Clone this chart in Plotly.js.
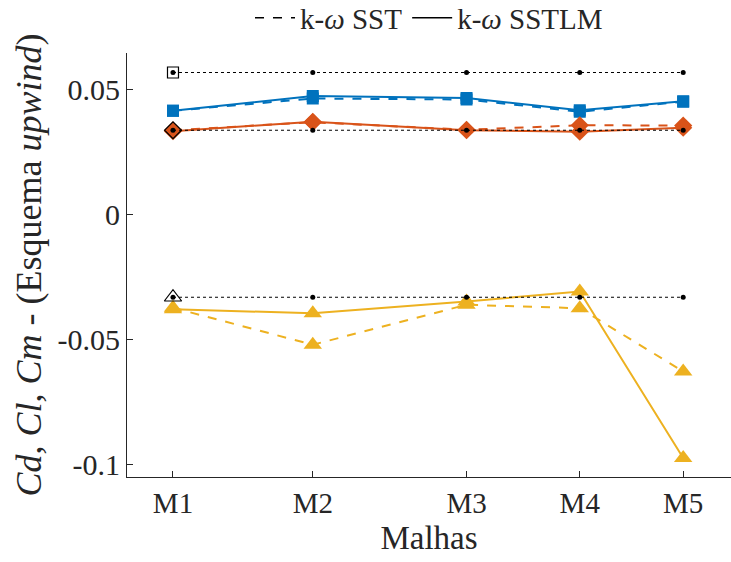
<!DOCTYPE html>
<html>
<head>
<meta charset="utf-8">
<script src="https://cdn.plot.ly/plotly-3.0.1.min.js"></script>
<style>html,body{margin:0;padding:0;background:#fff;}#chart{width:731px;height:562px;}</style>
</head>
<body>
<div id="chart"></div>
<script>
// Mesh labels and their positions along the x axis
const meshLabels = ['M1', 'M2', 'M3', 'M4', 'M5'];
const meshPos = [1.00, 2.00, 3.10, 3.91, 4.65];

// Blue (squares)
const blueSST   = [0.0415, 0.0464, 0.0460, 0.0411, 0.0451];
const blueSSTLM = [0.0415, 0.0474, 0.0466, 0.0417, 0.0453];
// Orange (diamonds)
const orangeSST   = [0.0337, 0.0369, 0.0339, 0.0357, 0.0356];
const orangeSSTLM = [0.0333, 0.0371, 0.0337, 0.0331, 0.0347];
// Yellow (triangles)
const yellowSST   = [-0.0373, -0.0521, -0.0361, -0.0375, -0.0628];
const yellowSSTLM = [-0.0379, -0.0395, -0.0348, -0.0308, -0.0974];

// Reference values (black dotted lines)
const refSquare = 0.0568;
const refDiamond = 0.0337;
const refTriangle = -0.0331;

const yTickVals = [0.05, 0, -0.05, -0.1];
const yTickText = ['0.05', '0', '-0.05', '-0.1'];

const legendNames = ['k-<i>ω</i> SST', 'k-<i>ω</i> SSTLM'];

const BLUE = '#0072BD', ORANGE = '#D95319', YELLOW = '#EDB120';
const FONT = '"Liberation Serif", "Times New Roman", Times, serif';

function series(y, color, symbol, size, dash) {
  return {
    x: meshPos, y: y, type: 'scatter', mode: 'lines+markers',
    line: {color: color, width: 2, dash: dash},
    marker: {color: color, symbol: symbol, size: size},
    showlegend: false, hoverinfo: 'skip'
  };
}
function refLine(val, symbol, size) {
  const ys = meshPos.map(() => val);
  return [
    {x: meshPos, y: ys, type: 'scatter', mode: 'lines+markers',
     line: {color: '#000', width: 1.2, dash: 'dot'},
     marker: {color: '#000', size: 5, symbol: 'circle'},
     showlegend: false, hoverinfo: 'skip'},
    {x: [meshPos[0]], y: [val], type: 'scatter', mode: 'markers',
     marker: {color: '#000', symbol: symbol, size: size, line: {color: '#000', width: 1.2}},
     showlegend: false, hoverinfo: 'skip'}
  ];
}

const data = [
  series(blueSST, BLUE, 'square', 12, 'dash'),
  series(blueSSTLM, BLUE, 'square', 12, 'solid'),
  series(orangeSST, ORANGE, 'diamond', 14, 'dash'),
  series(orangeSSTLM, ORANGE, 'diamond', 14, 'solid'),
  series(yellowSST, YELLOW, 'triangle-up', 16, 'dash'),
  series(yellowSSTLM, YELLOW, 'triangle-up', 16, 'solid'),
  ...refLine(refSquare, 'square-open-dot', 11),
  ...refLine(refDiamond, 'diamond-open-dot', 13),
  ...refLine(refTriangle, 'triangle-up-open-dot', 15),
  {x: [null], y: [null], type: 'scatter', mode: 'lines', name: legendNames[0],
   line: {color: '#000', width: 1.5, dash: 'dash'}, showlegend: true},
  {x: [null], y: [null], type: 'scatter', mode: 'lines', name: legendNames[1],
   line: {color: '#000', width: 1.5, dash: 'solid'}, showlegend: true}
];

const layout = {
  width: 731, height: 562,
  margin: {l: 127, r: 0, t: 53, b: 85},
  paper_bgcolor: '#fff', plot_bgcolor: '#fff',
  font: {family: FONT, color: '#262626'},
  showlegend: true,
  legend: {orientation: 'h', x: 0.5, xanchor: 'center', xref: 'paper',
           y: 0.968, yanchor: 'middle', yref: 'container',
           font: {family: FONT, size: 29, color: '#262626'}, bgcolor: 'rgba(0,0,0,0)',
           itemwidth: 40, tracegroupgap: 0},
  xaxis: {
    range: [0.671, 4.992], tickvals: meshPos, ticktext: meshLabels,
    showgrid: false, zeroline: false, showline: true, linecolor: '#262626', linewidth: 1,
    ticks: 'inside', ticklen: 6, tickcolor: '#262626', mirror: false,
    tickfont: {family: FONT, size: 29, color: '#262626'},
    title: {text: 'Malhas', font: {family: FONT, size: 33, color: '#262626'}, standoff: 8}
  },
  yaxis: {
    range: [-0.105, 0.0646], tickvals: yTickVals, ticktext: yTickText,
    showgrid: false, zeroline: false, showline: true, linecolor: '#262626', linewidth: 1,
    ticks: 'inside', ticklen: 6, tickcolor: '#262626', mirror: false,
    tickfont: {family: FONT, size: 30, color: '#262626'},
    title: {text: '<i>Cd</i>, <i>Cl</i>, <i>Cm</i> - (Esquema <i>upwind</i>)',
            font: {family: FONT, size: 36, color: '#262626'}, standoff: 4}
  }
};

Plotly.newPlot('chart', data, layout, {displayModeBar: false, staticPlot: true});
</script>
</body>
</html>
